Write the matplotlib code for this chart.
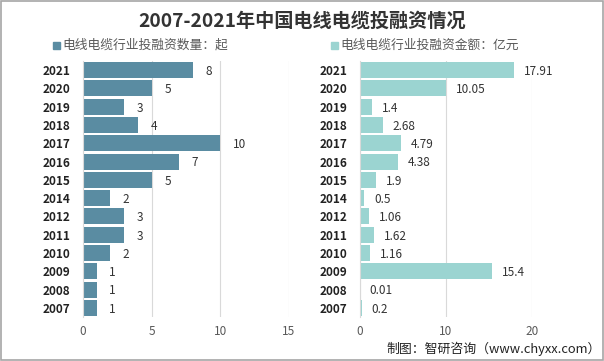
import matplotlib
matplotlib.use("Agg")
import matplotlib.pyplot as plt
from matplotlib.patches import Rectangle

plt.rcParams['font.family'] = ['Noto Sans CJK SC', 'DejaVu Sans']

years = ['2021', '2020', '2019', '2018', '2017', '2016', '2015', '2014',
         '2012', '2011', '2010', '2009', '2008', '2007']
counts = [8, 5, 3, 4, 10, 7, 5, 2, 3, 3, 2, 1, 1, 1]
amounts = [17.91, 10.05, 1.4, 2.68, 4.79, 4.38, 1.9, 0.5, 1.06, 1.62, 1.16, 15.4, 0.01, 0.2]
amount_labels = ['17.91', '10.05', '1.4', '2.68', '4.79', '4.38', '1.9', '0.5',
                 '1.06', '1.62', '1.16', '15.4', '0.01', '0.2']
title = '2007-2021年中国电线电缆投融资情况'
legend_left = '电线电缆行业投融资数量：起'
legend_right = '电线电缆行业投融资金额：亿元'
credit = '制图：智研咨询（www.chyxx.com）'

c_left = '#5A8CA2'
c_right = '#9BD4D1'

W, H = 604, 361
fig = plt.figure(figsize=(W / 100, H / 100), dpi=100)

def fx(px):
    return px / W

def fy(py):
    return 1 - py / H

bottom = fy(317)
top = fy(61)
axL = fig.add_axes([fx(83), bottom, fx(289) - fx(83), top - bottom])
axR = fig.add_axes([fx(360), bottom, fx(532) - fx(360), top - bottom])

ypos = list(range(len(years)))

def style(ax, xmax, ticks):
    ax.set_xlim(0, xmax)
    ax.set_ylim(len(years) - 0.5, -0.5)
    ax.set_xticks(ticks)
    ax.set_xticklabels([str(t) for t in ticks], fontsize=8.5, color='#595959')
    ax.set_yticks(ypos)
    ax.set_yticklabels(years, fontsize=8.5, fontweight='bold', color='#222222')
    ax.tick_params(length=0, pad=6)
    ax.tick_params(axis='y', pad=9)
    ax.grid(axis='x', color='#D9D9D9', linewidth=0.8)
    ax.set_axisbelow(True)
    for s in ['top', 'right', 'bottom']:
        ax.spines[s].set_visible(False)
    ax.spines['left'].set_color('#D9D9D9')
    ax.patch.set_alpha(0)

axL.barh(ypos, counts, height=0.88, color=c_left)
style(axL, 15, [0, 5, 10, 15])
for y, v in zip(ypos, counts):
    axL.annotate(str(v), (v, y), xytext=(9, -1), textcoords='offset points',
                 ha='left', va='center', fontsize=8.5, color='#333333')

axR.barh(ypos, amounts, height=0.88, color=c_right)
style(axR, 20, [0, 10, 20])
for y, v, lab in zip(ypos, amounts, amount_labels):
    axR.annotate(lab, (v, y), xytext=(7, -1), textcoords='offset points',
                 ha='left', va='center', fontsize=8.5, color='#333333')

fig.text(0.5, fy(21), title, ha='center', va='center', fontsize=13.8,
         fontweight='bold', color='#333333')

fig.patches.append(Rectangle((fx(53), fy(49)), fx(7), 7 / H, transform=fig.transFigure,
                             color=c_left))
fig.text(fx(62), fy(45), legend_left, ha='left', va='center', fontsize=9.2, color='#595959')
fig.patches.append(Rectangle((fx(331), fy(49)), fx(7), 7 / H, transform=fig.transFigure,
                             color=c_right))
fig.text(fx(340), fy(45), legend_right, ha='left', va='center', fontsize=9.2, color='#595959')

fig.text(fx(601), fy(349), credit, ha='right', va='center', fontsize=9.3, color='#222222')

fig.patches.append(Rectangle((0.001, 0.002), 0.997, 0.995, transform=fig.transFigure,
                             fill=False, edgecolor='#A6A6A6', linewidth=1.2))

fig.savefig('out.png', dpi=100, facecolor='white')
